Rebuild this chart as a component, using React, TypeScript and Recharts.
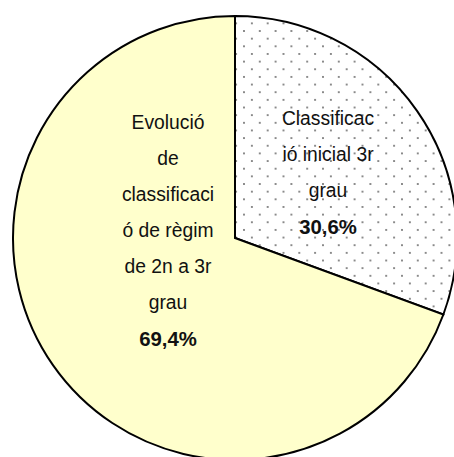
import { Cell, Pie, PieChart } from "recharts";

const categories = ["Classificació inicial 3r grau", "Evolució de classificació de règim de 2n a 3r grau"];
const shares = [30.6, 69.4];
const labelLines = [
  ["Classificac", "ió inicial 3r", "grau"],
  ["Evolució", "de", "classificaci", "ó de règim", "de 2n a 3r", "grau"],
];
const percentLabels = ["30,6%", "69,4%"];

const FILLS = ["url(#dots)", "#FFFFCC"];
// label block centres, relative to the pie centre
const LABEL_OFFSETS = [
  { dx: 93, dy: -66 },
  { dx: -67, dy: -8 },
];
const LINE_H = 36;
const FONT = '"Liberation Sans Narrow", "Arial Narrow", "Liberation Sans", Arial, sans-serif';

const data = categories.map((name, i) => ({ name, value: shares[i] }));

function renderLabel(props: any) {
  const { cx, cy, index } = props;
  const lines = [...labelLines[index], percentLabels[index]];
  const off = LABEL_OFFSETS[index];
  const x = cx + off.dx;
  const top = cy + off.dy - ((lines.length - 1) * LINE_H) / 2;
  return (
    <g>
      {lines.map((line, j) => {
        const bold = j === lines.length - 1;
        return (
          <text
            key={j}
            x={0}
            y={0}
            transform={`translate(${x},${top + j * LINE_H}) scale(${bold ? 0.97 : 0.92},1)`}
            textAnchor="middle"
            dominantBaseline="central"
            fill="#111"
            fontFamily={FONT}
            fontSize={21}
            fontWeight={bold ? "bold" : "normal"}
          >
            {line}
          </text>
        );
      })}
    </g>
  );
}

export default function App() {
  return (
    <div style={{ position: "absolute", left: 0, top: 0, width: 454, height: 457, background: "#fff" }}>
      <PieChart width={454} height={457} margin={{ top: 0, right: 0, bottom: 0, left: 0 }}>
        <defs>
          <pattern id="dots" x={7} y={0.4} width={15.8} height={15.3} patternUnits="userSpaceOnUse">
            <rect width={15.8} height={15.3} fill="#fff" />
            <circle cx={0} cy={0} r={0.9} fill="#555" />
            <circle cx={15.8} cy={0} r={0.9} fill="#555" />
            <circle cx={0} cy={15.3} r={0.9} fill="#555" />
            <circle cx={15.8} cy={15.3} r={0.9} fill="#555" />
            <circle cx={7.9} cy={7.65} r={0.9} fill="#555" />
          </pattern>
        </defs>
        <Pie
          data={data}
          dataKey="value"
          nameKey="name"
          cx={235}
          cy={238}
          outerRadius={222}
          startAngle={90}
          endAngle={-270}
          stroke="#000"
          strokeWidth={2}
          label={renderLabel}
          labelLine={false}
          isAnimationActive={false}
        >
          {data.map((d, i) => (
            <Cell key={d.name} fill={FILLS[i]} />
          ))}
        </Pie>
      </PieChart>
    </div>
  );
}
